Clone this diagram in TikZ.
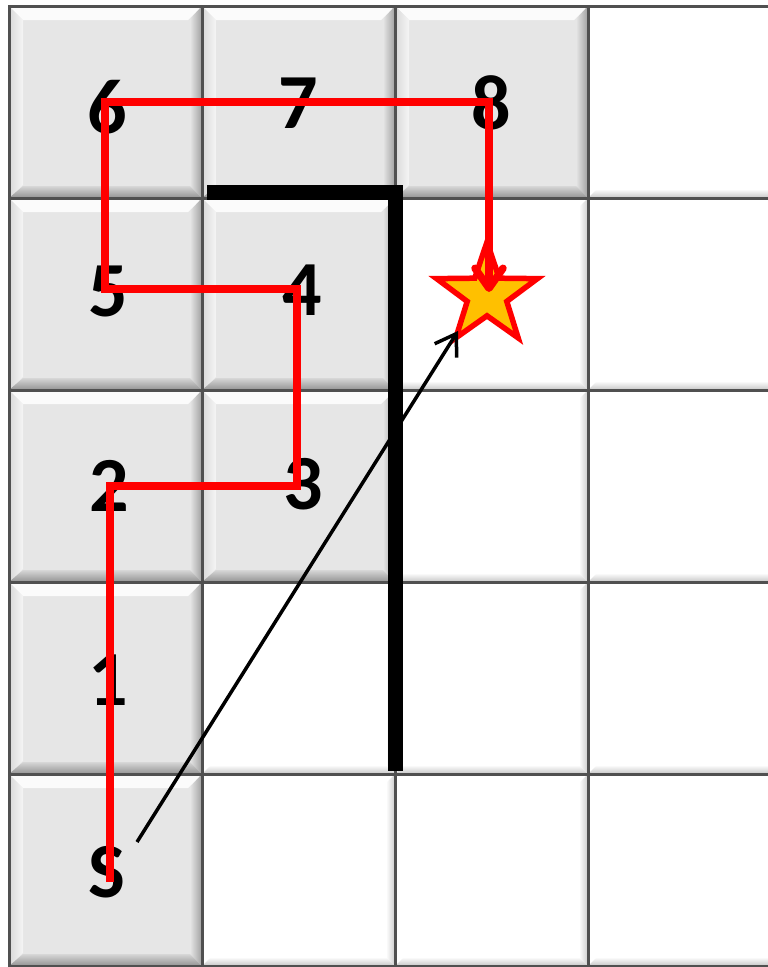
\documentclass[tikz,border=0pt]{standalone}
\usepackage{fontspec}
\setmainfont{Carlito}
\usetikzlibrary{shapes.geometric,arrows.meta}
\definecolor{gface}{HTML}{E6E6E6}
\definecolor{tborder}{HTML}{505050}
\definecolor{starfill}{HTML}{FFC000}
\definecolor{pathred}{HTML}{FF0000}
\tikzset{
  tileborder/.style={draw=tborder, line width=3pt},
  numlabel/.style={inner sep=0pt, font=\fontsize{78pt}{78pt}\selectfont\bfseries},
  redroute/.style={draw=pathred, line width=7.5pt, line join=miter,
    -{Straight Barb[length=20pt, width=28pt, round]}},
  blackarrow/.style={draw=black, line width=3.5pt,
    -{Straight Barb[length=20pt, width=26pt]}},
  wall/.style={draw=black, line width=15pt, line join=miter},
  goalstar/.style={star, star points=5, star point ratio=2.55, minimum size=106pt,
    inner sep=0pt, fill=starfill, draw=pathred, line width=5.5pt},
  gtile/.pic={
    \fill[gface] (0,0) rectangle (193,192);
    \fill[white!97!gray] (0,0) -- (193,0) -- (179,14) -- (14,14) -- cycle;
    \shade[left color=gray!30, right color=gray!8] (0,0) -- (14,14) -- (14,179) -- (0,192) -- cycle;
    \shade[left color=gface, right color=gray!75] (193,0) -- (193,192) -- (181,180) -- (181,13) -- cycle;
    \shade[top color=gface!85!gray, bottom color=gray!85] (0,192) -- (193,192) -- (181,180) -- (14,180) -- cycle;
    \draw[tileborder] (0,0) rectangle (193,192);
  },
  wtile/.pic={
    \fill[white] (0,0) rectangle (193,192);
    \shade[left color=white, right color=gray!40] (193,0) -- (193,192) -- (184,183) -- (184,9) -- cycle;
    \shade[top color=white, bottom color=gray!45] (0,192) -- (193,192) -- (184,183) -- (9,183) -- cycle;
    \draw[tileborder] (0,0) rectangle (193,192);
  }
}
\begin{document}
\begin{tikzpicture}[x=1pt,y=-1pt]
\useasboundingbox (0,0) rectangle (768,967);
\fill[white] (0,0) rectangle (768,967);
% tiles
\foreach \cx/\cy in {9/6,202/6,395/6, 9/198,202/198, 9/390,202/390, 9/582, 9/774}
  \pic at (\cx,\cy) {gtile};
\foreach \cx/\cy in {588/6, 395/198,588/198, 395/390,588/390, 202/582,395/582,588/582, 202/774,395/774,588/774}
  \pic at (\cx,\cy) {wtile};
% numbers
\node[numlabel] (n6) at (107,107) {6};
\node[numlabel] (n7) at (298,103) {7};
\node[numlabel] (n8) at (491,103) {8};
\node[numlabel] (n5) at (108,291) {5};
\node[numlabel] (n4) at (302,290) {4};
\node[numlabel] (n2) at (109,486) {2};
\node[numlabel] (n3) at (303,484) {3};
\node[numlabel] (n1) at (108,680) {1};
\node[numlabel] (nS) at (107,872) {S};
% wall
\coordinate (w0) at (207,192);
\coordinate (w1) at (395,192);
\coordinate (w2) at (395,771);
\draw[wall] (w0) -- (w1) -- (w2);
% goal star
\node[goalstar] (goal) at (487,295) {};
% red route
\coordinate (r0) at (110,882);
\coordinate (r1) at (110,486);
\coordinate (r2) at (297,486);
\coordinate (r3) at (297,289);
\coordinate (r4) at (105,289);
\coordinate (r5) at (105,102);
\coordinate (r6) at (489,102);
\coordinate (r7) at (489,292);
\draw[redroute] (r0) -- (r1) -- (r2) -- (r3) -- (r4) -- (r5) -- (r6) -- (r7);
% black arrow
\coordinate (b0) at (137,842);
\coordinate (b1) at (458,331);
\draw[blackarrow] (b0) -- (b1);
\end{tikzpicture}
\end{document}
